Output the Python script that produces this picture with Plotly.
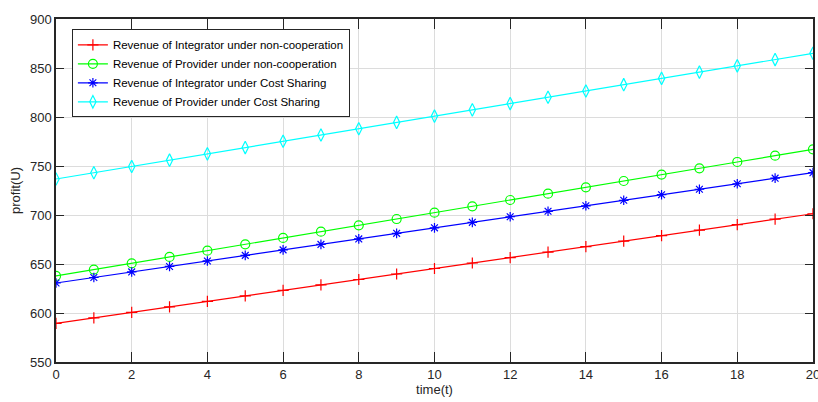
import plotly.graph_objects as go

t = list(range(21))
red_integrator_noncoop = [589.5, 595.1, 600.7, 606.3, 611.9, 617.5, 623.0, 628.6, 634.2, 639.8, 645.4,
                          651.0, 656.6, 662.2, 667.8, 673.4, 679.0, 684.5, 690.1, 695.7, 701.3]
green_provider_noncoop = [637.8, 644.3, 650.7, 657.2, 663.6, 670.1, 676.6, 683.0, 689.5, 695.9, 702.4,
                          708.9, 715.3, 721.8, 728.2, 734.7, 741.2, 747.6, 754.1, 760.5, 767.0]
blue_integrator_cs = [630.6, 636.2, 641.9, 647.5, 653.1, 658.8, 664.4, 670.0, 675.6, 681.3, 686.9,
                      692.5, 698.2, 703.8, 709.4, 715.0, 720.7, 726.3, 731.9, 737.6, 743.2]
cyan_provider_cs = [736.7, 743.1, 749.5, 756.0, 762.4, 768.8, 775.2, 781.6, 788.0, 794.5, 800.9,
                    807.3, 813.7, 820.1, 826.5, 833.0, 839.4, 845.8, 852.2, 858.6, 865.0]

names = ["Revenue of Integrator under non-cooperation",
         "Revenue of Provider under non-cooperation",
         "Revenue of Integrator under Cost Sharing",
         "Revenue of Provider under Cost Sharing"]
x_ticks = list(range(0, 21, 2))
y_ticks = list(range(550, 901, 50))

FONT = "Liberation Sans Narrow, Arial Narrow, Liberation Sans, sans-serif"

series = [
    (red_integrator_noncoop, "#ff0000", "cross-thin-open", 8),
    (green_provider_noncoop, "#00ff00", "circle-open", 9),
    (blue_integrator_cs, "#0000ff", "asterisk-open", 8),
    (cyan_provider_cs, "#00ffff", "diamond-tall-open", 9),
]

fig = go.Figure()
for (vals, color, sym, size), name in zip(series, names):
    fig.add_trace(go.Scatter(
        x=t, y=vals, name=name, mode="lines+markers",
        line=dict(color=color, width=1.2),
        marker=dict(symbol=sym, size=size, color=color, line=dict(color=color, width=1.2)),
    ))

axis_common = dict(
    showline=True, linecolor="#262626", linewidth=1.5, mirror="ticks",
    ticks="inside", tickcolor="#262626", showgrid=True, gridcolor="#dcdcdc", gridwidth=1,
    zeroline=False, tickfont=dict(family=FONT, size=13, color="#262626"),
    ticklabeloverflow="allow", automargin=False,
)

fig.update_layout(
    width=818, height=402,
    margin=dict(l=56, r=5, t=19, b=40),
    paper_bgcolor="white", plot_bgcolor="white",
    font=dict(family=FONT, color="#262626"),
    showlegend=True,
    legend=dict(x=0.021, y=0.97, xanchor="left", yanchor="top",
                bgcolor="white", bordercolor="#262626", borderwidth=1,
                font=dict(family=FONT, size=11.5, color="#000000"),
                tracegroupgap=0, itemwidth=30),
    xaxis=dict(range=[0, 20.001], tickvals=x_ticks, ticklen=10,
               title=dict(text="time(t)", font=dict(family=FONT, size=13), standoff=4),
               **axis_common),
    yaxis=dict(range=[550, 900.001], tickvals=y_ticks, ticklen=8,
               title=dict(text="profit(U)", font=dict(family=FONT, size=13), standoff=6),
               **axis_common),
)

fig.write_html("out.html")
